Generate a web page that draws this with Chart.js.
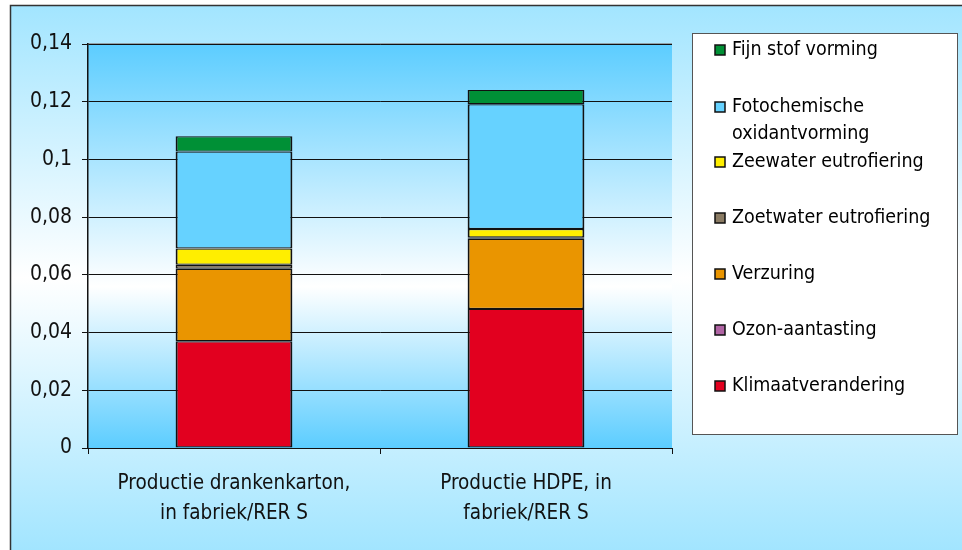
<!DOCTYPE html>
<html>
<head>
<meta charset="utf-8">
<script src="https://cdn.jsdelivr.net/npm/chart.js@4/dist/chart.umd.min.js"></script>
<style>
  html, body { margin: 0; padding: 0; background: #fff; }
  #wrap { width: 962px; height: 550px; }
</style>
</head>
<body>
<div id="wrap"><canvas id="chart" width="962" height="550"></canvas></div>
<script>
// categorieën (twee regels per label)
const categories = [
  ["Productie drankenkarton,", "in fabriek/RER S"],
  ["Productie HDPE, in", "fabriek/RER S"],
];

// waarden per impactcategorie, van onder naar boven gestapeld
const klimaat = [0.037, 0.0482];
const ozon = [0.00001, 0];
const verzuring = [0.0251, 0.0243];
const zoetwater = [0.0014, 0.0005];
const zeewater = [0.0056, 0.0029];
const fotochemisch = [0.0336, 0.0432];
const fijnStof = [0.0053, 0.005];

const yTicks = [0, 0.02, 0.04, 0.06, 0.08, 0.1, 0.12, 0.14];

const FONT = "'DejaVu Sans Condensed', 'DejaVu Sans', sans-serif";

function ds(label, data, color, legendLines) {
  return {
    label,
    data,
    backgroundColor: color,
    borderColor: "#111",
    borderWidth: { top: 1.2, bottom: 1.2, left: 2, right: 2 },
    borderSkipped: false,
    barPercentage: 0.8,
    categoryPercentage: 0.5,
    legendLines: legendLines || [label],
  };
}

const datasets = [
  ds("Klimaatverandering", klimaat, "#e2001f"),
  ds("Ozon-aantasting", ozon, "#b064a4"),
  ds("Verzuring", verzuring, "#ea9500"),
  ds("Zoetwater eutrofiering", zoetwater, "#8a7b63"),
  ds("Zeewater eutrofiering", zeewater, "#ffee00"),
  ds("Fotochemische oxidantvorming", fotochemisch, "#66d2ff", ["Fotochemische", "oxidantvorming"]),
  ds("Fijn stof vorming", fijnStof, "#009036"),
];

// achtergrond: buitenkader + plotgebied met verloop
const backgroundPlugin = {
  id: "bg",
  beforeDraw(chart) {
    const { ctx, chartArea: a } = chart;
    ctx.save();
    const g = ctx.createLinearGradient(0, 5, 0, 550);
    g.addColorStop(0, "#a2e5ff");
    g.addColorStop(0.5, "#ffffff");
    g.addColorStop(1, "#a2e5ff");
    ctx.fillStyle = g;
    ctx.fillRect(10, 5, 952, 545);
    ctx.strokeStyle = "#333";
    ctx.lineWidth = 1.5;
    ctx.beginPath();
    ctx.moveTo(10.5, 550);
    ctx.lineTo(10.5, 5.5);
    ctx.lineTo(962, 5.5);
    ctx.stroke();

    const p = ctx.createLinearGradient(0, a.top, 0, a.bottom);
    p.addColorStop(0, "#5ccdff");
    p.addColorStop(0.6, "#ffffff");
    p.addColorStop(1, "#5ccdff");
    ctx.fillStyle = p;
    ctx.fillRect(a.left, a.top, a.right - a.left, a.bottom - a.top);
    ctx.strokeStyle = "#888";
    ctx.lineWidth = 1.5;
    ctx.beginPath();
    ctx.moveTo(a.left, a.top);
    ctx.lineTo(a.right, a.top);
    ctx.stroke();
    ctx.restore();
  },
};

// legenda rechts, bovenste laag eerst
const legendPlugin = {
  id: "sideLegend",
  afterDraw(chart) {
    const { ctx } = chart;
    ctx.save();
    ctx.fillStyle = "#fff";
    ctx.fillRect(692, 33, 265, 401);
    ctx.strokeStyle = "#555";
    ctx.lineWidth = 1;
    ctx.strokeRect(692.5, 33.5, 265, 401);
    ctx.font = "19.5px " + FONT;
    ctx.textBaseline = "middle";
    ctx.textAlign = "left";
    const items = chart.data.datasets.slice().reverse();
    const rowY = [50, 107, 162, 218, 274, 330, 386];
    items.forEach((d, i) => {
      const y = rowY[i];
      ctx.fillStyle = d.backgroundColor;
      ctx.fillRect(715, y - 5, 10, 10);
      ctx.strokeStyle = "#111";
      ctx.lineWidth = 1.5;
      ctx.strokeRect(715, y - 5, 10, 10);
      ctx.fillStyle = "#000";
      d.legendLines.forEach((line, j) => ctx.fillText(line, 732, y + j * 27));
    });
    ctx.restore();
  },
};

new Chart(document.getElementById("chart"), {
  type: "bar",
  data: { labels: categories, datasets },
  options: {
    responsive: false,
    animation: false,
    layout: { padding: { left: 0, top: 44, right: 290, bottom: 0 } },
    plugins: {
      legend: { display: false },
      tooltip: { enabled: false },
    },
    scales: {
      x: {
        stacked: true,
        offset: true,
        grid: {
          offset: true,
          drawOnChartArea: false,
          drawTicks: true,
          tickLength: 6,
          color: "#111",
        },
        border: { color: "#111", width: 1 },
        ticks: {
          color: "#111",
          font: { family: FONT, size: 20.5, lineHeight: 1.45 },
          padding: 15,
          maxRotation: 0,
        },
        afterFit(scale) { scale.height = 102; },
      },
      y: {
        stacked: true,
        min: 0,
        max: 0.14,
        afterBuildTicks(scale) { scale.ticks = yTicks.map((v) => ({ value: v })); },
        grid: { color: "#111", lineWidth: 1, tickLength: 6 },
        border: { color: "#111", width: 1.5 },
        ticks: {
          color: "#111",
          padding: 10,
          font: { family: FONT, size: 21 },
          callback: (v) => String(Math.round(v * 100) / 100).replace(".", ","),
        },
        afterFit(scale) { scale.width = 88; },
      },
    },
  },
  plugins: [backgroundPlugin, legendPlugin],
});
</script>
</body>
</html>
